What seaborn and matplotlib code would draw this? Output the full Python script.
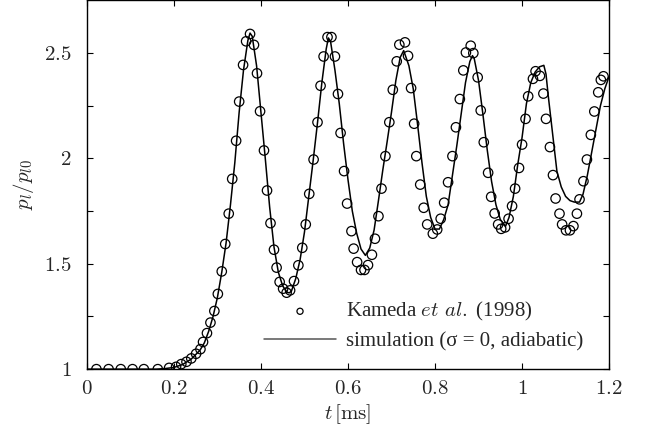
import numpy as np
import pandas as pd
import matplotlib
matplotlib.use("Agg")
import matplotlib.pyplot as plt
from matplotlib.ticker import FixedLocator, FuncFormatter
import seaborn as sns

# ---- experimental data (Kameda et al. 1998) ----
exp_t = [0.022, 0.050, 0.078, 0.105, 0.131, 0.163, 0.189, 0.205, 0.217, 0.229,
         0.240, 0.251, 0.261, 0.267, 0.276, 0.284, 0.293, 0.301, 0.310, 0.318,
         0.326, 0.334, 0.343, 0.350, 0.359, 0.366, 0.375, 0.384, 0.391, 0.398,
         0.407, 0.414, 0.422, 0.430, 0.436, 0.443, 0.451, 0.459, 0.467, 0.476,
         0.486, 0.495, 0.503, 0.511, 0.521, 0.530, 0.537, 0.544, 0.553,
         0.562, 0.570, 0.577, 0.583, 0.591, 0.598, 0.608, 0.613, 0.621, 0.630,
         0.638, 0.646, 0.655, 0.662, 0.670, 0.677, 0.686, 0.695, 0.703, 0.712,
         0.718, 0.731, 0.738, 0.745, 0.752, 0.757, 0.766, 0.774, 0.782, 0.795,
         0.805, 0.813, 0.821, 0.830, 0.840, 0.848, 0.857, 0.865, 0.871, 0.882,
         0.888, 0.898, 0.905, 0.912, 0.922, 0.929, 0.937, 0.945, 0.952, 0.961,
         0.969, 0.977, 0.984, 0.993, 1.000, 1.008, 1.014, 1.025, 1.031, 1.041,
         1.049, 1.055, 1.064, 1.071, 1.077, 1.086, 1.092, 1.101, 1.110, 1.118,
         1.126, 1.132, 1.141, 1.149, 1.158, 1.166, 1.175, 1.181, 1.187]
exp_p = [1.000, 1.000, 1.000, 1.000, 1.000, 1.000, 1.006, 1.011, 1.024, 1.035,
         1.051, 1.073, 1.095, 1.129, 1.171, 1.221, 1.276, 1.357, 1.464, 1.594,
         1.738, 1.903, 2.084, 2.270, 2.444, 2.556, 2.591, 2.539, 2.404, 2.224,
         2.038, 1.848, 1.693, 1.567, 1.482, 1.414, 1.382, 1.363, 1.374, 1.418,
         1.493, 1.576, 1.687, 1.832, 1.995, 2.172, 2.345, 2.484, 2.576,
         2.576, 2.484, 2.306, 2.121, 1.940, 1.786, 1.655, 1.572, 1.508, 1.471,
         1.471, 1.494, 1.543, 1.619, 1.726, 1.857, 2.011, 2.172, 2.326, 2.461,
         2.540, 2.551, 2.487, 2.334, 2.165, 2.011, 1.876, 1.766, 1.687, 1.643,
         1.663, 1.714, 1.790, 1.887, 2.011, 2.148, 2.282, 2.418, 2.503, 2.535,
         2.500, 2.385, 2.228, 2.077, 1.932, 1.818, 1.739, 1.687, 1.666, 1.673,
         1.714, 1.774, 1.857, 1.955, 2.066, 2.188, 2.295, 2.378, 2.414, 2.392,
         2.308, 2.188, 2.054, 1.921, 1.810, 1.738, 1.687, 1.659, 1.659, 1.679,
         1.738, 1.806, 1.892, 1.995, 2.112, 2.223, 2.314, 2.373, 2.390]

# ---- simulation (sigma = 0, adiabatic) ----
sim_t = [0.000, 0.100, 0.160, 0.180, 0.200, 0.220, 0.240, 0.260, 0.270, 0.280,
         0.290, 0.300, 0.310, 0.320, 0.330, 0.340, 0.350, 0.360, 0.370, 0.375,
         0.380, 0.390, 0.400, 0.410, 0.420, 0.430, 0.440, 0.450, 0.460, 0.465,
         0.470, 0.480, 0.490, 0.500, 0.510, 0.520, 0.530, 0.540, 0.550, 0.555,
         0.560, 0.570, 0.580, 0.590, 0.600, 0.610, 0.620, 0.630, 0.640, 0.650,
         0.660, 0.670, 0.680, 0.690, 0.700, 0.710, 0.720, 0.728, 0.740, 0.750,
         0.760, 0.770, 0.780, 0.790, 0.800, 0.810, 0.820, 0.830, 0.840, 0.850,
         0.860, 0.870, 0.880, 0.886, 0.890, 0.900, 0.910, 0.920, 0.930, 0.940,
         0.950, 0.962, 0.970, 0.980, 0.990, 1.000, 1.010, 1.020, 1.030, 1.040,
         1.050, 1.055, 1.060, 1.070, 1.080, 1.090, 1.100, 1.110, 1.120, 1.132,
         1.140, 1.150, 1.160, 1.170, 1.180, 1.190, 1.200]
sim_p = [1.000, 1.000, 1.000, 1.003, 1.008, 1.022, 1.048, 1.090, 1.125, 1.180,
         1.250, 1.340, 1.460, 1.600, 1.780, 1.980, 2.220, 2.420, 2.560, 2.595,
         2.580, 2.440, 2.220, 2.000, 1.770, 1.580, 1.460, 1.395, 1.365, 1.362,
         1.370, 1.430, 1.520, 1.650, 1.820, 1.990, 2.170, 2.360, 2.520, 2.572,
         2.555, 2.420, 2.260, 2.070, 1.900, 1.750, 1.645, 1.570, 1.540, 1.575,
         1.660, 1.800, 1.945, 2.080, 2.220, 2.370, 2.480, 2.512, 2.440, 2.330,
         2.160, 1.980, 1.820, 1.720, 1.665, 1.665, 1.710, 1.780, 1.920, 2.060,
         2.210, 2.360, 2.460, 2.488, 2.475, 2.370, 2.210, 2.040, 1.890, 1.780,
         1.710, 1.678, 1.720, 1.820, 1.970, 2.100, 2.260, 2.360, 2.410, 2.435,
         2.442, 2.400, 2.300, 2.120, 1.940, 1.865, 1.820, 1.800, 1.793, 1.793,
         1.830, 1.920, 2.030, 2.140, 2.250, 2.330, 2.390]

exp_df = pd.DataFrame({"t": exp_t, "p": exp_p})
sim_df = pd.DataFrame({"t": sim_t, "p": sim_p})

sns.set_style("ticks")
plt.rcParams["font.family"] = ["Liberation Serif", "DejaVu Serif"]
plt.rcParams["mathtext.fontset"] = "cm"

fig = plt.figure(figsize=(6.48, 4.40), dpi=100)
ax = fig.add_axes([0.134, 0.161, 0.806, 0.838])

sns.scatterplot(data=exp_df, x="t", y="p", ax=ax, marker="o", s=46,
                facecolor="none", edgecolor="black", linewidth=0.9,
                label="Kameda $\\mathit{et\\ al.}$ (1998)", zorder=3)
sns.lineplot(data=sim_df, x="t", y="p", ax=ax, color="black", linewidth=1.1,
             label="simulation (σ = 0, adiabatic)", zorder=2)

ax.set_xlim(0, 1.2)
ax.set_ylim(1, 2.75)

ax.xaxis.set_major_locator(FixedLocator([0, 0.2, 0.4, 0.6, 0.8, 1.0, 1.2]))
ax.yaxis.set_major_locator(FixedLocator([1, 1.5, 2, 2.5]))
ax.yaxis.set_minor_locator(FixedLocator([1.25, 1.75, 2.25]))
fmt = FuncFormatter(lambda v, pos: "$%g$" % round(v, 2))
ax.xaxis.set_major_formatter(fmt)
ax.yaxis.set_major_formatter(fmt)
ax.tick_params(axis="both", which="both", direction="in", top=True, right=True,
               length=4.5, width=0.8, color="black")
ax.tick_params(axis="x", which="major", labelsize=15, pad=8)
ax.tick_params(axis="y", which="major", labelsize=15, pad=11)
for sp in ax.spines.values():
    sp.set_linewidth(1.0)
    sp.set_color("black")

ax.set_xlabel("$t\\,[\\mathrm{ms}]$", fontsize=15, labelpad=2)
ax.set_ylabel("$p_l/p_{l0}$", fontsize=15, labelpad=6)

handles, labels = ax.get_legend_handles_labels()
leg = ax.legend(handles, labels, loc="lower right",
                bbox_to_anchor=((583 - 87) / 522.0, (369 - 351) / 369.0),
                frameon=False, fontsize=15, handlelength=3.5,
                handletextpad=0.45, labelspacing=0.4, borderpad=0,
                borderaxespad=0, markerscale=0.65)
for h in leg.legend_handles:
    if h.__class__.__name__ == "Line2D":
        h.set_color("#555555")

fig.savefig("out.png", dpi=100)
